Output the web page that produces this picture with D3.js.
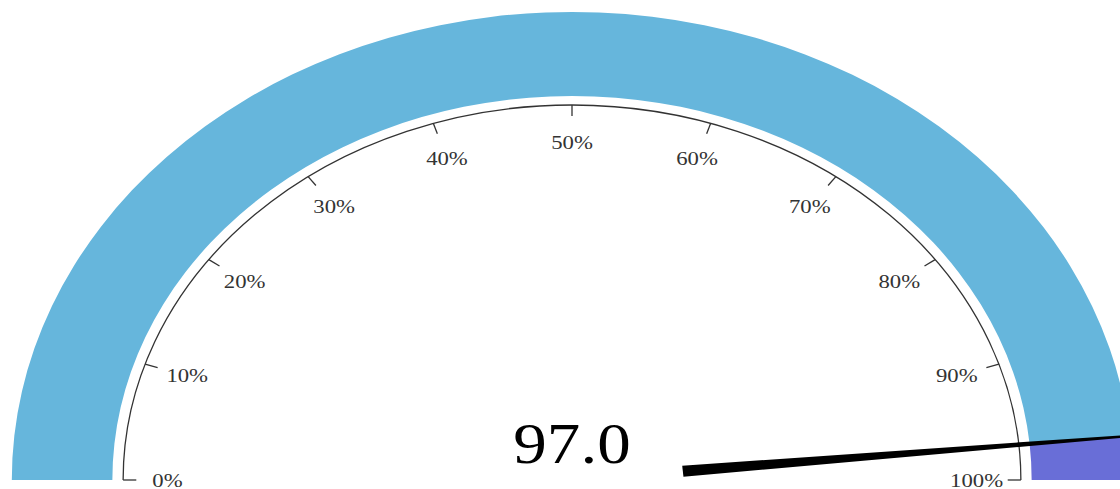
<!DOCTYPE html>
<html>
<head>
<meta charset="utf-8">
<script src="https://cdn.jsdelivr.net/npm/d3@7"></script>
<style>
  html, body { margin: 0; padding: 0; background: #fff; overflow: hidden; }
  svg { display: block; }
</style>
</head>
<body>
<svg id="gauge" width="1120" height="489"></svg>
<script>
// Gauge reading and scale
const gaugeMin = 0;
const gaugeMax = 100;
const gaugeValue = 97.0;
const tickValues = [0, 10, 20, 30, 40, 50, 60, 70, 80, 90, 100];
const tickLabels = ["0%", "10%", "20%", "30%", "40%", "50%", "60%", "70%", "80%", "90%", "100%"];

const width = 1120, height = 489;
const cx = 572, cy = 480;
const stretchX = 1.197;          // gauge is drawn as a horizontally stretched half-dial

const bandOuter = 468, bandInner = 384;
const scaleR = 375, tickLen = 11, labelR = 338;

const svg = d3.select("#gauge");
const g = svg.append("g")
  .attr("transform", `translate(${cx},${cy}) scale(${stretchX},1)`);

const angle = d3.scaleLinear()
  .domain([gaugeMin, gaugeMax])
  .range([-Math.PI / 2, Math.PI / 2]);

const band = d3.arc().innerRadius(bandInner).outerRadius(bandOuter);

// filled part of the band up to the current value
g.append("path")
  .attr("d", band({ startAngle: angle(gaugeMin), endAngle: angle(gaugeValue) }))
  .attr("fill", "#66b6dc");

// remainder of the band
g.append("path")
  .attr("d", band({ startAngle: angle(gaugeValue), endAngle: angle(gaugeMax) }))
  .attr("fill", "#696ed7");

// scale arc
const arcPath = d3.path();
arcPath.arc(0, 0, scaleR, angle(gaugeMin) - Math.PI / 2, angle(gaugeMax) - Math.PI / 2);
g.append("path")
  .attr("d", arcPath.toString())
  .attr("fill", "none")
  .attr("stroke", "#333")
  .attr("stroke-width", 1.3)
  .attr("vector-effect", "non-scaling-stroke");

// ticks pointing inward
g.selectAll("line.tick")
  .data(tickValues)
  .join("line")
  .attr("class", "tick")
  .attr("x1", d => scaleR * Math.sin(angle(d)))
  .attr("y1", d => -scaleR * Math.cos(angle(d)))
  .attr("x2", d => (scaleR - tickLen) * Math.sin(angle(d)))
  .attr("y2", d => -(scaleR - tickLen) * Math.cos(angle(d)))
  .attr("stroke", "#333")
  .attr("stroke-width", 1.3)
  .attr("vector-effect", "non-scaling-stroke");

// tick labels
g.selectAll("text.tick-label")
  .data(tickValues)
  .join("text")
  .attr("class", "tick-label")
  .attr("x", d => labelR * Math.sin(angle(d)))
  .attr("y", d => -labelR * Math.cos(angle(d)))
  .attr("dy", "0.35em")
  .attr("text-anchor", "middle")
  .attr("font-family", "'Liberation Serif', 'Times New Roman', serif")
  .attr("font-size", 19)
  .attr("fill", "#333")
  .text((d, i) => tickLabels[i]);

// value readout
g.append("text")
  .attr("x", 0)
  .attr("y", -17)
  .attr("text-anchor", "middle")
  .attr("font-family", "'Liberation Serif', 'Times New Roman', serif")
  .attr("font-size", 56)
  .attr("fill", "#000")
  .text(gaugeValue.toFixed(1));

// tapered needle
const theta = angle(gaugeValue);
const r0 = 93, r1 = 490, w0 = 11, w1 = 2;
const ux = Math.sin(theta), uy = -Math.cos(theta);
const nx = Math.cos(theta), ny = Math.sin(theta);
const needlePts = [
  [r0 * ux + nx * w0 / 2, r0 * uy + ny * w0 / 2],
  [r1 * ux + nx * w1 / 2, r1 * uy + ny * w1 / 2],
  [r1 * ux - nx * w1 / 2, r1 * uy - ny * w1 / 2],
  [r0 * ux - nx * w0 / 2, r0 * uy - ny * w0 / 2]
];
g.append("path")
  .attr("d", d3.line()(needlePts) + "Z")
  .attr("fill", "#000");
</script>
</body>
</html>
